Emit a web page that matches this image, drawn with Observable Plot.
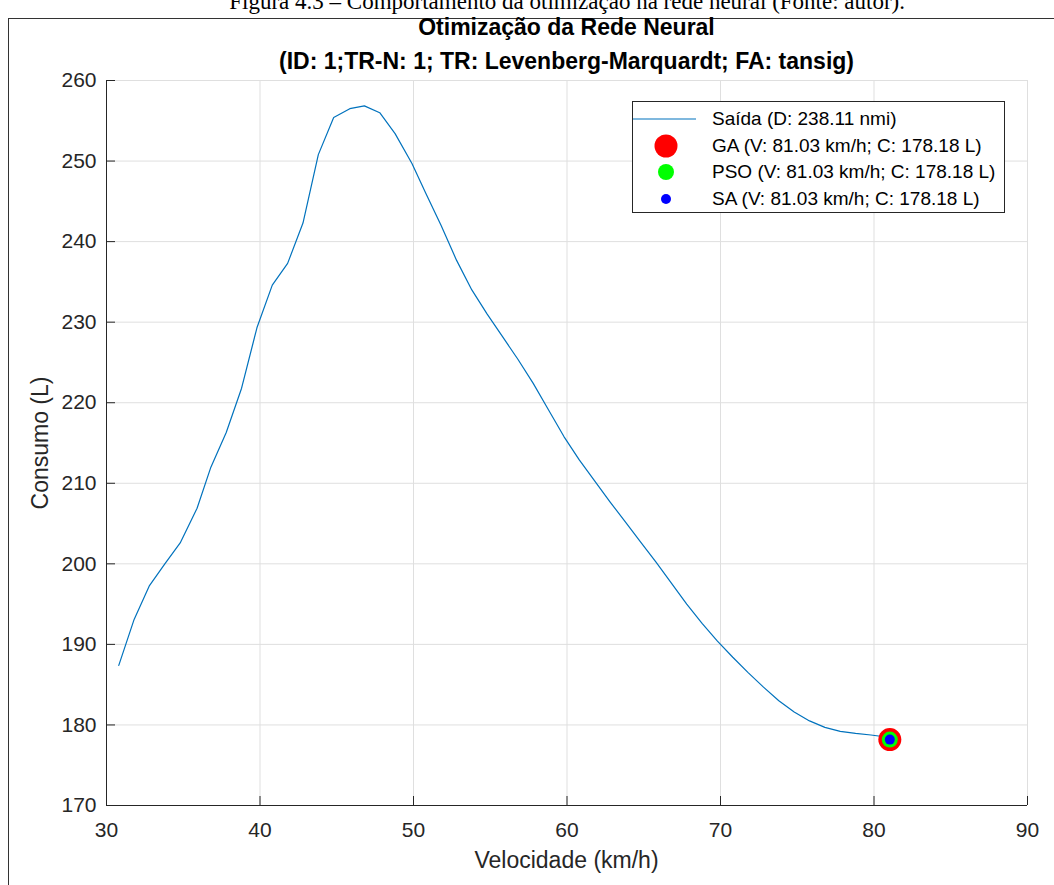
<!DOCTYPE html>
<html>
<head>
<meta charset="utf-8">
<script src="https://cdn.jsdelivr.net/npm/d3@7"></script>
<script src="https://cdn.jsdelivr.net/npm/@observablehq/plot@0.6"></script>
<style>
  html, body { margin: 0; padding: 0; background: #fff; }
  #wrap { position: relative; width: 1054px; height: 885px; overflow: hidden;
          font-family: "Liberation Sans", Arial, Helvetica, sans-serif; color: #262626; }
  #wrap svg { position: absolute; left: 0; top: 0; }
  .abs { position: absolute; white-space: nowrap; }
  #caption { font-family: "Liberation Serif", "Times New Roman", serif; font-size: 23px; line-height: 23px;
             color: #000; right: 149px; top: -10px; }
  #frameTop { left: 8px; top: 18px; width: 1046px; height: 0; border-top: 1.5px solid #333; }
  #frameLeft { left: 8px; top: 18px; width: 0; height: 870px; border-left: 1.5px solid #333; }
  .title { font-weight: bold; font-size: 23px; left: 106px; width: 921px; text-align: center; color: #000; }
  #xlabel { font-size: 23px; left: 106px; width: 921px; text-align: center; top: 847px; }
  #ylabel { font-size: 23px; left: 40px; top: 442.5px; transform: translate(-50%, -50%) rotate(-90deg); }
  #legend { left: 632px; top: 101px; width: 373px; height: 112px; background: #fff;
            border: 1px solid #262626; box-sizing: border-box; }
  .lrow { position: absolute; left: 0; height: 26px; width: 100%; font-size: 19px; color: #000; }
  .lrow svg { position: absolute; left: 8px; top: 0; }
  .lrow span { position: absolute; left: 79px; top: 2px; }
</style>
</head>
<body>
<div id="wrap"></div>
<script>
// ---- data ----
const velocidade = [30.8, 31.8, 32.8, 33.8, 34.8, 35.9, 36.8, 37.8, 38.8, 39.8,
  40.8, 41.8, 42.8, 43.8, 44.8, 45.85, 46.8, 47.8, 48.8, 49.9,
  50.8, 51.8, 52.8, 53.8, 54.8, 55.8, 56.8, 57.8, 58.8, 59.8,
  60.8, 61.8, 62.8, 63.8, 64.8, 65.8, 66.8, 67.8, 68.8, 69.8,
  70.8, 71.8, 72.8, 73.8, 74.8, 75.8, 76.8, 77.8, 78.8, 79.8, 80.8];
const consumo = [187.4, 193.1, 197.3, 200.0, 202.6, 206.9, 212.0, 216.3, 221.8, 229.3,
  234.6, 237.3, 242.3, 250.8, 255.4, 256.5, 256.85, 256.0, 253.4, 249.7,
  246.0, 242.0, 237.7, 234.0, 231.0, 228.2, 225.4, 222.4, 219.1, 215.8,
  212.9, 210.3, 207.7, 205.2, 202.7, 200.2, 197.6, 195.0, 192.6, 190.4,
  188.4, 186.5, 184.7, 183.0, 181.6, 180.5, 179.7, 179.2, 178.95, 178.75, 178.5];
const metodos = ["GA", "PSO", "SA"];
const metodoVelocidade = [81.03, 81.03, 81.03];
const metodoConsumo = [178.18, 178.18, 178.18];
const distanciaNmi = 238.11;
const xTicks = [30, 40, 50, 60, 70, 80, 90];
const yTicks = [170, 180, 190, 200, 210, 220, 230, 240, 250, 260];
const tituloLinha1 = "Otimização da Rede Neural";
const tituloLinha2 = "(ID: 1;TR-N: 1; TR: Levenberg-Marquardt; FA: tansig)";
const rotuloX = "Velocidade (km/h)";
const rotuloY = "Consumo (L)";
const legenda = "Figura 4.3 – Comportamento da otimização na rede neural (Fonte: autor).";

// ---- styling ----
const W = 1054, H = 885, mT = 80, mB = 80, mL = 106, mR = 27;
const innerW = W - mL - mR, innerH = H - mT - mB;
const tickLen = 9;
const axisColor = "#262626", gridColor = "#dfdfdf", lineColor = "#0072BD";
const corMetodo = {GA: "#ff0000", PSO: "#00ff00", SA: "#0000ff"};
const raioMetodo = {GA: 11.5, PSO: 8, SA: 5};

const serie = velocidade.map((v, i) => ({v, c: consumo[i]}));
const otimos = metodos.map((m, i) => ({m, v: metodoVelocidade[i], c: metodoConsumo[i]}));

const chart = Plot.plot({
  width: W, height: H,
  marginTop: mT, marginBottom: mB, marginLeft: mL, marginRight: mR,
  x: {domain: [30, 90]},
  y: {domain: [170, 260]},
  style: {fontFamily: '"Liberation Sans", Arial, sans-serif', fontSize: "21px", color: axisColor, background: "transparent"},
  marks: [
    Plot.gridX(xTicks, {stroke: gridColor, strokeOpacity: 1}),
    Plot.gridY(yTicks, {stroke: gridColor, strokeOpacity: 1}),
    Plot.ruleX([30], {stroke: axisColor}),
    Plot.ruleY([170], {stroke: axisColor}),
    Plot.tickX(xTicks, {x: d => d, stroke: axisColor, insetTop: innerH - tickLen}),
    Plot.tickY(yTicks, {y: d => d, stroke: axisColor, insetRight: innerW - tickLen}),
    Plot.axisX(xTicks, {tickSize: 0, tickPadding: 17, fontSize: 21, label: null}),
    Plot.axisY(yTicks, {tickSize: 0, tickPadding: 10, fontSize: 21, label: null}),
    Plot.line(serie, {x: "v", y: "c", stroke: lineColor, strokeWidth: 1.2}),
    ...otimos.map(o => Plot.dot([o], {x: "v", y: "c", r: raioMetodo[o.m], fill: corMetodo[o.m], stroke: "none"}))
  ]
});

const wrap = document.getElementById("wrap");
wrap.appendChild(chart);

function addDiv(id, cls, text, css) {
  const d = document.createElement("div");
  if (id) d.id = id;
  d.className = "abs " + (cls || "");
  if (text != null) d.textContent = text;
  if (css) Object.assign(d.style, css);
  wrap.appendChild(d);
  return d;
}
addDiv("caption", "", legenda);
addDiv("frameTop", "", null);
addDiv("frameLeft", "", null);
addDiv(null, "title", tituloLinha1, {top: "14px"});
addDiv(null, "title", tituloLinha2, {top: "48px"});
addDiv("xlabel", "", rotuloX);
addDiv("ylabel", "", rotuloY);

// legend
const leg = addDiv("legend", "", null);
const rows = [
  {label: `Saída (D: ${distanciaNmi.toFixed(2)} nmi)`, kind: "line"},
  ...otimos.map(o => ({label: `${o.m} (V: ${o.v.toFixed(2)} km/h; C: ${o.c.toFixed(2)} L)`, kind: o.m}))
];
const rowTops = [4, 31, 57, 84];
rows.forEach((r, i) => {
  const row = document.createElement("div");
  row.className = "lrow";
  row.style.top = rowTops[i] + "px";
  const ns = "http://www.w3.org/2000/svg";
  const s = document.createElementNS(ns, "svg");
  s.setAttribute("width", 64); s.setAttribute("height", 26);
  if (r.kind === "line") {
    const l = document.createElementNS(ns, "line");
    l.setAttribute("x1", 0); l.setAttribute("x2", 63); l.setAttribute("y1", 13); l.setAttribute("y2", 13);
    l.setAttribute("stroke", lineColor); l.setAttribute("stroke-width", 1.2);
    s.appendChild(l);
  } else {
    const c = document.createElementNS(ns, "circle");
    c.setAttribute("cx", 33); c.setAttribute("cy", 13); c.setAttribute("r", raioMetodo[r.kind]);
    c.setAttribute("fill", corMetodo[r.kind]);
    s.appendChild(c);
  }
  row.appendChild(s);
  const t = document.createElement("span");
  t.textContent = r.label;
  row.appendChild(t);
  leg.appendChild(row);
});
</script>
</body>
</html>
